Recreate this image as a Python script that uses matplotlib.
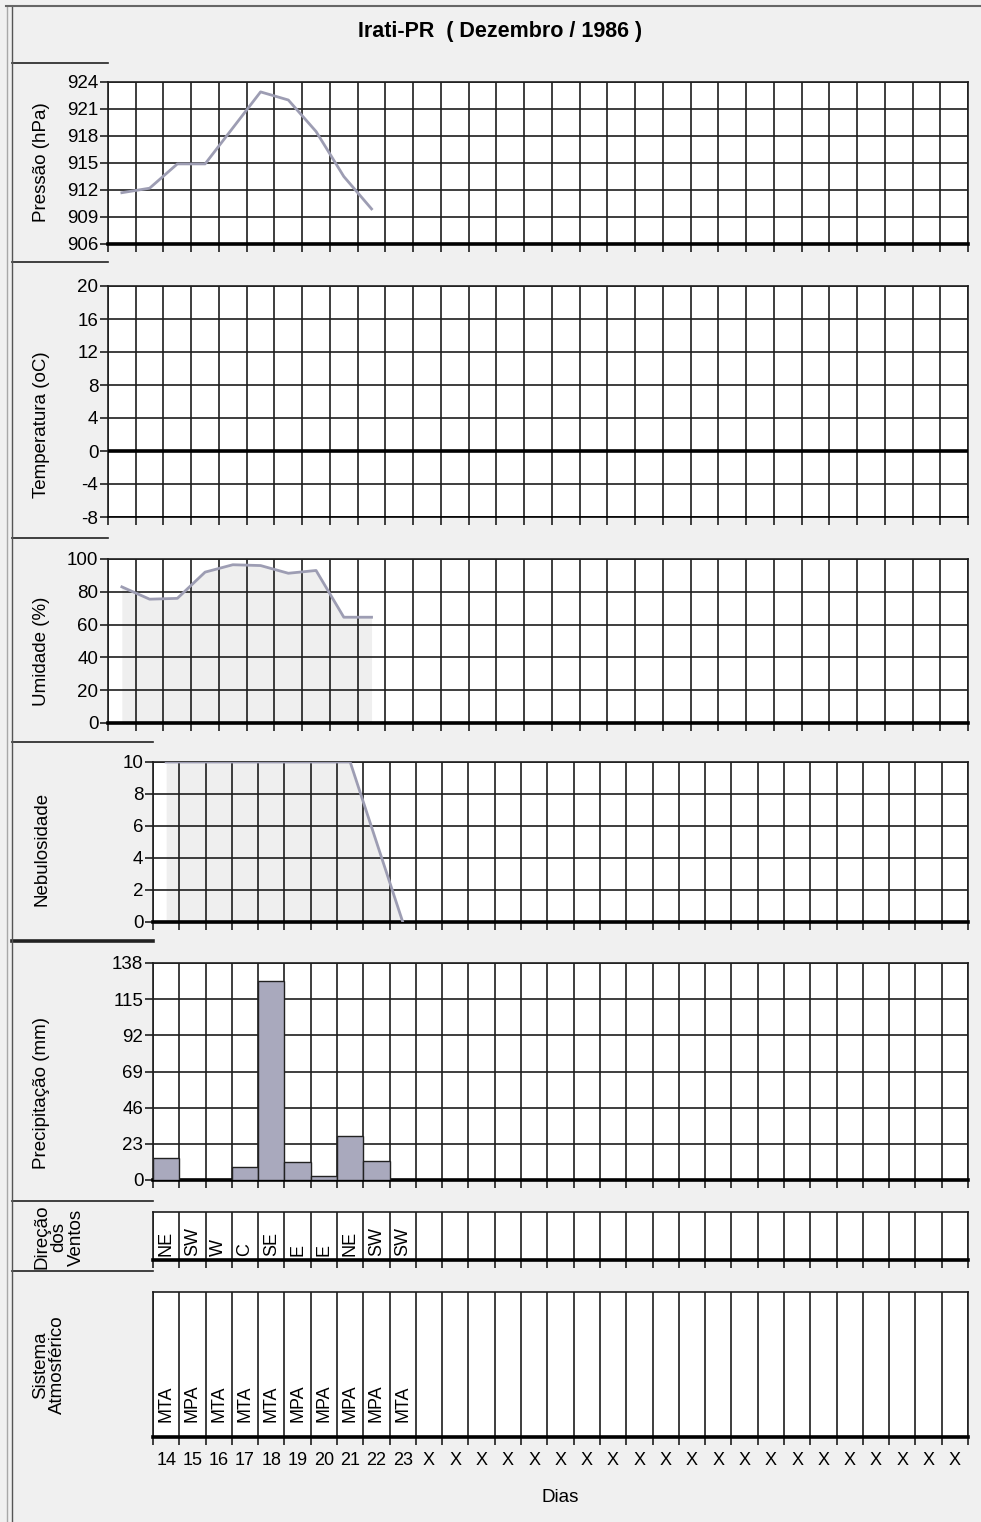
import matplotlib
matplotlib.use('Agg')
import matplotlib.pyplot as plt
import numpy as np
from matplotlib.lines import Line2D

plt.rcParams['font.family'] = ['Liberation Sans', 'DejaVu Sans']
plt.rcParams['axes.unicode_minus'] = False

W, H = 981, 1522

# dados (14 a 23 de dezembro)
dias = ['14', '15', '16', '17', '18', '19', '20', '21', '22', '23'] + ['X'] * 21
pressao = [911.7, 912.2, 914.9, 914.9, 918.9, 922.9, 922.0, 918.5, 913.5, 909.9]
umidade = [83, 75.5, 76, 92, 96.5, 96, 91.3, 93, 64.5, 64.5]
nebulosidade = [10, 10, 10, 10, 10, 10, 10, 10, 5, 0]
precipitacao = [14, 0, 0, 8.1, 126.3, 11.7, 2.8, 28.1, 11.9, 0]
ventos = ['NE', 'SW', 'W', 'C', 'SE', 'E', 'E', 'NE', 'SW', 'SW']
sistemas = ['MTA', 'MPA', 'MTA', 'MTA', 'MTA', 'MPA', 'MPA', 'MPA', 'MPA', 'MTA']

FUNDO = '#f0f0f0'
LINHA = '#9d9db3'
AREA = '#efefef'
BARRA = '#a9a9bd'
GRADE = '#1e1e1e'
FS = 13.5

fig = plt.figure(figsize=(W / 100, H / 100), dpi=100, facecolor=FUNDO)

ndias = len(dias)
centros = np.arange(ndias) + 0.5
xs = centros[:len(pressao)]


def painel(x0, y0, x1, y1, so_vertical=False):
    ax = fig.add_axes([x0 / W, 1 - y1 / H, (x1 - x0) / W, (y1 - y0) / H])
    ax.set_facecolor('white')
    ax.set_xlim(0, ndias)
    ax.set_xticks(np.arange(ndias + 1))
    ax.tick_params(axis='x', which='major', length=6, width=1.2, color=GRADE,
                   labelbottom=False)
    ax.tick_params(axis='y', length=6, width=1.2, color=GRADE, labelsize=FS, pad=1)
    if so_vertical:
        ax.grid(True, axis='x', color=GRADE, lw=1.2)
        ax.set_yticks([])
    else:
        ax.grid(True, color=GRADE, lw=1.2)
    for s in ax.spines.values():
        s.set_color(GRADE)
        s.set_linewidth(1.2)
    ax.spines['bottom'].set_color('black')
    ax.spines['bottom'].set_linewidth(2.6)
    return ax


# Pressao
ax1 = painel(108, 82, 968, 244)
ax1.set_ylim(906, 924)
ax1.set_yticks(np.arange(906, 925, 3))
ax1.plot(xs, pressao, color=LINHA, lw=2, zorder=3)

# Temperatura (sem dados)
ax2 = painel(108, 286, 968, 517)
ax2.set_ylim(-8, 20)
ax2.set_yticks(np.arange(-8, 21, 4))
ax2.spines['bottom'].set_linewidth(1.2)
ax2.axhline(0, color='black', lw=2.6, zorder=3)

# Umidade
ax3 = painel(108, 559, 968, 723)
ax3.set_ylim(0, 100)
ax3.set_yticks(np.arange(0, 101, 20))
ax3.fill_between(xs, umidade, 0, color=AREA, lw=0, zorder=1)
ax3.plot(xs, umidade, color=LINHA, lw=2, zorder=3)

# Nebulosidade
ax4 = painel(153, 762, 968, 922)
ax4.set_ylim(0, 10)
ax4.set_yticks(np.arange(0, 11, 2))
ax4.fill_between(xs, nebulosidade, 0, color=AREA, lw=0, zorder=1)
ax4.plot(xs, nebulosidade, color=LINHA, lw=2, zorder=3)

# Precipitacao
ax5 = painel(153, 963, 968, 1180)
ax5.set_ylim(0, 138)
ax5.set_yticks(np.arange(0, 139, 23))
ax5.bar(xs, precipitacao, width=1, color=BARRA, edgecolor='#222222', lw=1, zorder=3)

# Direcao dos ventos
ax6 = painel(153, 1212, 968, 1260, so_vertical=True)
ax6.set_ylim(0, 1)
for x, v in zip(xs, ventos):
    ax6.text(x, 0.08, v, rotation=90, ha='center', va='bottom', fontsize=FS - 0.5)

# Sistema atmosferico
ax7 = painel(153, 1292, 968, 1437, so_vertical=True)
ax7.set_ylim(0, 1)
for x, s in zip(xs, sistemas):
    ax7.text(x, 0.1, s, rotation=90, ha='center', va='bottom', fontsize=FS - 0.5)
ax7.set_xticks(centros, minor=True)
ax7.set_xticklabels(dias, minor=True)
ax7.tick_params(axis='x', which='minor', length=0, labelbottom=True,
                labelsize=FS - 0.5, pad=11)

# textos
fig.text(500 / W, 1 - 31 / H, 'Irati-PR  ( Dezembro / 1986 )',
         ha='center', va='center', fontsize=15.5, fontweight='bold')
fig.text(560 / W, 1 - 1497 / H, 'Dias', ha='center', va='center', fontsize=FS)

rotulos = [
    ('Pressão (hPa)', 42, 162),
    ('Temperatura (oC)', 42, 425),
    ('Umidade (%)', 42, 651),
    ('Nebulosidade', 42, 849),
    ('Precipitação (mm)', 42, 1093),
    ('Direção\ndos\nVentos', 59, 1237),
    ('Sistema\nAtmosférico', 49, 1365),
]
for txt, x, y in rotulos:
    fig.text(x / W, 1 - y / H, txt, rotation=90, ha='center', va='center',
             fontsize=FS, linespacing=1.02, multialignment='center')

# linhas separadoras da esquerda
separadores = [(63, 108, 1.2), (262, 108, 1.2), (538, 108, 1.2), (742, 153, 1.2),
               (941, 153, 2.6), (1201, 153, 1.2), (1271, 153, 1.2)]
for y, x1, lw in separadores:
    fig.add_artist(Line2D([12 / W, x1 / W], [1 - y / H] * 2,
                          transform=fig.transFigure, color='#222222', lw=lw))

# moldura
fig.add_artist(Line2D([6.5 / W] * 2, [0, 1 - 6 / H], transform=fig.transFigure,
                      color='#a8a8a8', lw=1))
fig.add_artist(Line2D([11.5 / W] * 2, [0, 1 - 6 / H], transform=fig.transFigure,
                      color='#555555', lw=1))
fig.add_artist(Line2D([6 / W, 1], [1 - 6 / H] * 2, transform=fig.transFigure,
                      color='#666666', lw=1.5))

fig.savefig('out.png', dpi=100, facecolor=fig.get_facecolor())
